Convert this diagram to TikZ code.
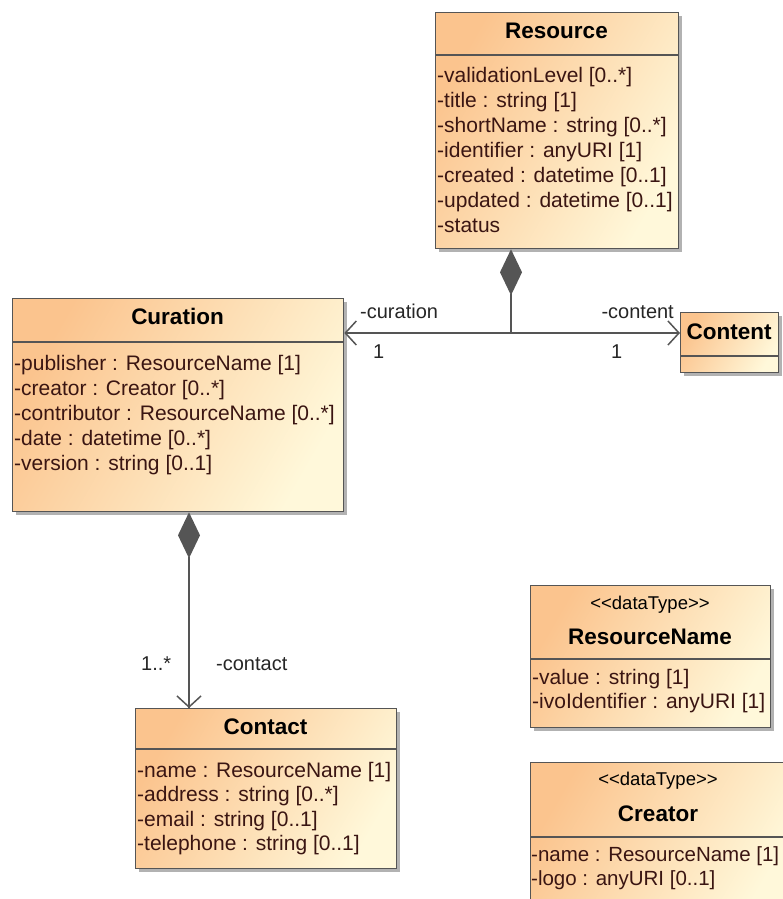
\documentclass[tikz,border=0pt]{standalone}
\usepackage{fontspec}
\setmainfont{Liberation Sans}
\usetikzlibrary{arrows.meta,shadows}
\definecolor{peach}{HTML}{FBC48E}
\definecolor{cream}{HTML}{FFF8DA}
\definecolor{edgec}{HTML}{555555}
\definecolor{attrc}{HTML}{3A1512}
\begin{document}
\begin{tikzpicture}[x=1pt,y=-1pt,
  cls/.style={draw=edgec, line width=1.3pt, top color=peach, bottom color=cream, shading angle=60,
    rectangle, anchor=north west, inner sep=0pt,
    drop shadow={shadow xshift=3pt, shadow yshift=-3pt, fill=black, opacity=0.3}},
  sepline/.style={draw=edgec, line width=1.3pt},
  title/.style={font=\fontsize{22.5}{26}\selectfont\bfseries, text=black, inner sep=0pt, anchor=base},
  stereo/.style={font=\fontsize{18.5}{22}\selectfont, text=black, inner sep=0pt, anchor=base},
  attr/.style={font=\fontsize{21}{25}\selectfont, text=attrc, inner sep=0pt, anchor=base west},
  lab/.style={font=\fontsize{20}{24}\selectfont, text=black!85, inner sep=0pt},
  conn/.style={draw=edgec, line width=1.5pt},
  comp/.style={conn, {Diamond[length=46pt,width=22pt,fill=edgec]}-},
  nav/.style={conn, -{Straight Barb[length=11pt,width=24pt]}}
]
\useasboundingbox (0,0) rectangle (783,899);
\clip (0,0) rectangle (783,899);

% Resource
\node[cls, minimum width=243pt, minimum height=236pt] (res) at (435,12) {};
\draw[sepline] (res.north west) ++(0,43) -- ++(243,0);
\node[title] (rest) at (556.5,38) {Resource};
\foreach \t [count=\i] in {{-validationLevel [0..*]},{-title : string [1]},{-shortName : string [0..*]},{-identifier : anyURI [1]},{-created : datetime [0..1]},{-updated : datetime [0..1]},{-status}}
  \node[attr] (resa\i) at (437,{82+25*(\i-1)}) {\t};

% Curation
\node[cls, minimum width=331pt, minimum height=213pt] (cur) at (12,298) {};
\draw[sepline] (cur.north west) ++(0,44) -- ++(331,0);
\node[title] (curt) at (177.5,324) {Curation};
\foreach \t [count=\i] in {{-publisher : ResourceName [1]},{-creator : Creator [0..*]},{-contributor : ResourceName [0..*]},{-date : datetime [0..*]},{-version : string [0..1]}}
  \node[attr] (cura\i) at (14,{370+25*(\i-1)}) {\t};

% Content
\node[cls, minimum width=98pt, minimum height=60pt] (con) at (680,312) {};
\draw[sepline] (con.north west) ++(0,44) -- ++(98,0);
\node[title] (cont) at (729,339) {Content};

% Contact
\node[cls, minimum width=261pt, minimum height=160pt] (ctc) at (135,708) {};
\draw[sepline] (ctc.north west) ++(0,41) -- ++(261,0);
\node[title] (ctct) at (265.5,734) {Contact};
\foreach \t [count=\i] in {{-name : ResourceName [1]},{-address : string [0..*]},{-email : string [0..1]},{-telephone : string [0..1]}}
  \node[attr] (ctca\i) at (137,{777+24.5*(\i-1)}) {\t};

% ResourceName
\node[cls, minimum width=240pt, minimum height=142pt] (rn) at (530,585) {};
\draw[sepline] (rn.north west) ++(0,74) -- ++(240,0);
\node[stereo] (rns) at (650,609) {{<}{<}dataType{>}{>}};
\node[title] (rnt) at (650,644) {ResourceName};
\foreach \t [count=\i] in {{-value : string [1]},{-ivoIdentifier : anyURI [1]}}
  \node[attr] (rna\i) at (532,{684+24.5*(\i-1)}) {\t};

% Creator
\node[cls, minimum width=256pt, minimum height=160pt] (cr) at (530,762) {};
\draw[sepline] (cr.north west) ++(0,75) -- ++(256,0);
\node[stereo] (crs) at (658,785) {{<}{<}dataType{>}{>}};
\node[title] (crt) at (658,821) {Creator};
\foreach \t [count=\i] in {{-name : ResourceName [1]},{-logo : anyURI [0..1]}}
  \node[attr, font=\fontsize{20.5}{25}\selectfont] (cra\i) at (531,{861+24.5*(\i-1)}) {\t};

% Associations
\coordinate (j) at (511,333);
\draw[comp] (j |- res.south) -- (j);
\draw[nav] (j) -- (j -| cur.east);
\draw[nav] (j) -- (j -| con.west);
\node[lab, anchor=base west] (lcur) at (360,318) {-curation};
\node[lab, anchor=base west] (lcur1) at (373,358) {1};
\node[lab, anchor=base east] (lcon) at (674,318) {-content};
\node[lab, anchor=base west] (lcon1) at (611,358) {1};

\coordinate (k) at (189,600);
\draw[comp] (k |- cur.south) -- (k |- ctc.north);
\draw[nav] (k) -- (k |- ctc.north);
\node[lab, anchor=base west] (lctm) at (141,670) {1..*};
\node[lab, anchor=base west] (lctc) at (216,670) {-contact};
\end{tikzpicture}
\end{document}
